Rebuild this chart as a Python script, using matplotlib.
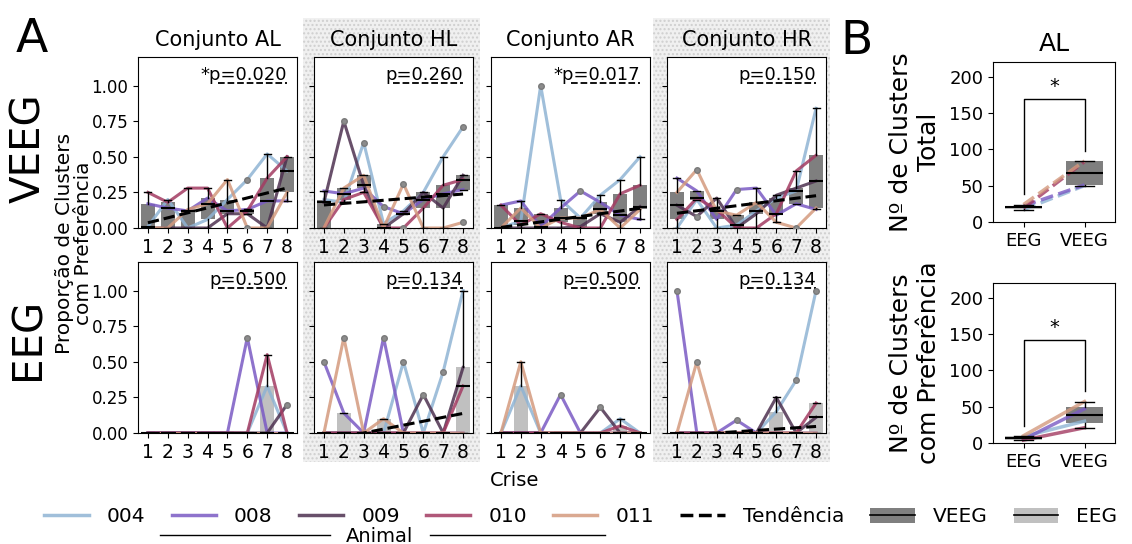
import numpy as np
import matplotlib.pyplot as plt
from matplotlib.lines import Line2D
from matplotlib.patches import Patch, Rectangle
from matplotlib.legend_handler import HandlerTuple

animals = ['004', '008', '009', '010', '011']
animal_colors = ['#8fb4d4', '#7a5ac4', '#4e3150', '#a33b62', '#d49a7e']
crises = np.arange(1, 9)
conjuntos = ['AL', 'HL', 'AR', 'HR']

# proporção de clusters com preferência: uma linha por animal, uma coluna por crise
veeg_al = [[0.01, 0.20, 0.00, 0.06, 0.20, 0.34, 0.52, 0.40],
           [0.17, 0.14, 0.12, 0.21, 0.12, 0.13, 0.19, 0.19],
           [0.00, 0.00, 0.00, 0.00, 0.10, 0.10, 0.00, 0.50],
           [0.25, 0.18, 0.28, 0.28, 0.00, 0.12, 0.35, 0.50],
           [0.00, 0.00, 0.13, 0.17, 0.34, 0.00, 0.00, 0.25]]
veeg_hl = [[0.20, 0.18, 0.60, 0.03, 0.12, 0.25, 0.50, 0.71],
           [0.26, 0.24, 0.28, 0.15, 0.10, 0.20, 0.24, 0.27],
           [0.18, 0.75, 0.30, 0.00, 0.10, 0.25, 0.14, 0.37],
           [0.00, 0.20, 0.25, 0.00, 0.00, 0.14, 0.30, 0.34],
           [0.00, 0.28, 0.37, 0.00, 0.31, 0.00, 0.00, 0.04]]
veeg_ar = [[0.00, 0.05, 1.00, 0.20, 0.07, 0.23, 0.34, 0.50],
           [0.16, 0.19, 0.01, 0.14, 0.26, 0.18, 0.09, 0.06],
           [0.00, 0.00, 0.00, 0.00, 0.01, 0.10, 0.04, 0.15],
           [0.16, 0.02, 0.10, 0.04, 0.00, 0.00, 0.24, 0.30],
           [0.00, 0.14, 0.00, 0.07, 0.07, 0.13, 0.00, 0.13]]
veeg_hr = [[0.00, 0.20, 0.00, 0.02, 0.12, 0.21, 0.26, 0.84],
           [0.35, 0.26, 0.06, 0.27, 0.28, 0.09, 0.17, 0.13],
           [0.16, 0.08, 0.21, 0.00, 0.10, 0.23, 0.28, 0.33],
           [0.06, 0.21, 0.13, 0.00, 0.00, 0.10, 0.40, 0.51],
           [0.25, 0.41, 0.12, 0.09, 0.18, 0.04, 0.00, 0.14]]

eeg_al = [[0, 0, 0, 0, 0, 0, 0.33, 0],
          [0, 0, 0, 0, 0, 0.67, 0, 0],
          [0, 0, 0, 0, 0, 0, 0, 0.20],
          [0, 0, 0, 0, 0, 0, 0.55, 0],
          [0, 0, 0, 0, 0, 0, 0, 0]]
eeg_hl = [[0, 0, 0, 0, 0.50, 0, 0.43, 1.00],
          [0.50, 0.14, 0, 0.67, 0, 0, 0, 0],
          [0, 0, 0, 0, 0, 0.27, 0, 0.46],
          [0, 0, 0, 0, 0, 0, 0, 0.33],
          [0, 0.67, 0, 0.10, 0, 0, 0, 0]]
eeg_ar = [[0, 0.33, 0, 0, 0, 0, 0.10, 0],
          [0, 0, 0, 0.27, 0, 0, 0, 0],
          [0, 0, 0, 0, 0, 0.18, 0, 0],
          [0, 0, 0, 0, 0, 0, 0.05, 0],
          [0, 0.50, 0, 0, 0, 0, 0, 0]]
eeg_hr = [[0, 0, 0, 0, 0, 0.15, 0.37, 1.00],
          [1.00, 0, 0, 0.09, 0, 0, 0, 0],
          [0, 0, 0, 0, 0, 0.25, 0, 0.11],
          [0, 0, 0, 0, 0, 0, 0, 0.21],
          [0, 0.50, 0, 0, 0, 0, 0, 0]]

pvals_veeg = ['*p=0.020', 'p=0.260', '*p=0.017', 'p=0.150']
pvals_eeg = ['p=0.500', 'p=0.134', 'p=0.500', 'p=0.134']

# painel B (conjunto AL), animal 009 sem dado
total_eeg = [17, 22, np.nan, 19, 24]
total_veeg = [50, 51, np.nan, 83, 84]
pref_eeg = [9, 5, np.nan, 4, 10]
pref_veeg = [30, 47, np.nan, 21, 57]

VEEG_GRAY = '#7f7f7f'
EEG_GRAY = '#c0c0c0'

W, H = 1132, 544
fig = plt.figure(figsize=(W / 100, H / 100), dpi=100)


def add_ax(left, top, width, height):
    return fig.add_axes([left / W, 1 - (top + height) / H, width / W, height / H])


def draw_boxes(ax, groups, positions, colors, width):
    bp = ax.boxplot(groups, positions=positions, widths=width, patch_artist=True,
                    manage_ticks=False,
                    boxprops=dict(edgecolor='none', zorder=1),
                    medianprops=dict(color='black', lw=1.5, zorder=3),
                    whiskerprops=dict(color='black', lw=1, zorder=3),
                    capprops=dict(color='black', lw=1, zorder=3),
                    flierprops=dict(marker='o', markersize=4, markerfacecolor='#8c8c8c',
                                    markeredgecolor='#7a7a7a', zorder=4))
    for patch, c in zip(bp['boxes'], colors):
        patch.set_facecolor(c)
    return bp


# fundo pontilhado nas colunas HL e HR
for x0 in (303, 653):
    fig.add_artist(Rectangle((x0 / W, 1 - 462 / H), 177 / W, 444 / H,
                             transform=fig.transFigure, facecolor='#f0f0f0',
                             edgecolor='#cfcfcf', hatch='....', lw=0, zorder=-1))

col_left = [138, 314, 491, 667]
rows = [([veeg_al, veeg_hl, veeg_ar, veeg_hr], VEEG_GRAY, pvals_veeg, 57),
        ([eeg_al, eeg_hl, eeg_ar, eeg_hr], EEG_GRAY, pvals_eeg, 262)]

for r, (datasets, box_color, pvals, top) in enumerate(rows):
    for c, name in enumerate(conjuntos):
        ax = add_ax(col_left[c], top, 159, 171)
        values = np.array(datasets[c], dtype=float)
        for k in range(len(animals)):
            ax.plot(crises, values[k], color=animal_colors[k], lw=2.2, alpha=0.85, zorder=2)
        draw_boxes(ax, [values[:, i] for i in range(len(crises))], crises,
                   [box_color] * len(crises), 0.7)
        # tendência: reta ajustada às medianas de cada crise
        slope, intercept = np.polyfit(crises, np.median(values, axis=0), 1)
        ax.plot(crises, slope * crises + intercept, color='black', ls='--', lw=2.2, zorder=5)
        ax.plot([4.5, 8], [1.02, 1.02], color='black', ls='--', lw=1.3)
        ax.text(8, 1.04, pvals[c], ha='right', va='baseline', fontsize=13)
        ax.set_xlim(0.5, 8.5)
        ax.set_ylim(0, 1.2)
        ax.set_xticks(crises)
        ax.set_yticks([0, 0.25, 0.5, 0.75, 1.0])
        ax.set_yticklabels(['0.00', '0.25', '0.50', '0.75', '1.00'])
        ax.tick_params(axis='y', labelsize=12)
        ax.tick_params(axis='x', labelsize=13.5)
        if c > 0:
            ax.tick_params(labelleft=False)
        if r == 0:
            ax.set_title(f'Conjunto {name}', fontsize=15, pad=8)

fig.text(32 / W, 1 - 40 / H, 'A', fontsize=34, ha='center', va='center')
fig.text(857 / W, 1 - 42 / H, 'B', fontsize=34, ha='center', va='center')
fig.text(29 / W, 1 - 148 / H, 'VEEG', fontsize=29, rotation=90, ha='center', va='center')
fig.text(29 / W, 1 - 339 / H, 'EEG', fontsize=29, rotation=90, ha='center', va='center')
fig.text(74 / W, 1 - 243 / H, 'Proporção de Clusters\ncom Preferência', fontsize=14.5,
         rotation=90, ha='center', va='center', multialignment='center', linespacing=1.05)
fig.text(515 / W, 1 - 481 / H, 'Crise', fontsize=14, ha='center', va='center')

# painel B
b_panels = [(total_eeg, total_veeg, 'Nº de Clusters\nTotal', '--', 62),
            (pref_eeg, pref_veeg, 'Nº de Clusters\ncom Preferência', '-', 283)]
for i, (eeg, veeg, ylabel, ls, top) in enumerate(b_panels):
    ax = add_ax(993, top, 122, 160)
    eeg = np.array(eeg, dtype=float)
    veeg = np.array(veeg, dtype=float)
    for k in range(len(animals)):
        if np.isnan(eeg[k]):
            continue
        ax.plot([0, 1], [eeg[k], veeg[k]], color=animal_colors[k], ls=ls, lw=2.5,
                alpha=0.8, zorder=2)
    draw_boxes(ax, [eeg[~np.isnan(eeg)], veeg[~np.isnan(veeg)]], [0, 1],
               [EEG_GRAY, VEEG_GRAY], 0.6)
    hi_eeg, hi_veeg = np.nanmax(eeg), np.nanmax(veeg)
    ax.plot([0, 0, 1, 1], [hi_eeg + 14, hi_veeg + 85, hi_veeg + 85, hi_veeg + 14],
            color='black', lw=1)
    ax.text(0.5, hi_veeg + 89, '*', ha='center', va='bottom', fontsize=14)
    ax.set_xlim(-0.5, 1.5)
    ax.set_ylim(0, 220)
    ax.set_xticks([0, 1])
    ax.set_xticklabels(['EEG', 'VEEG'])
    ax.set_yticks([0, 50, 100, 150, 200])
    ax.tick_params(labelsize=13)
    ax.set_ylabel(ylabel, fontsize=18, labelpad=6)
    if i == 0:
        ax.set_title('AL', fontsize=18, pad=8)

# legenda
handles = [Line2D([], [], color=col, lw=2.5, alpha=0.85) for col in animal_colors]
handles.append(Line2D([], [], color='black', ls='--', lw=2.5))
handles.append((Patch(facecolor=VEEG_GRAY), Line2D([], [], color='black', lw=1.2)))
handles.append((Patch(facecolor=EEG_GRAY), Line2D([], [], color='black', lw=1.2)))
labels = animals + ['Tendência', 'VEEG', 'EEG']
fig.legend(handles, labels, loc='center', bbox_to_anchor=(0.513, 1 - 517 / H), ncol=8,
           frameon=False, fontsize=14.5, handlelength=2.2, handletextpad=0.9,
           columnspacing=1.3, handler_map={tuple: HandlerTuple(ndivide=1)})

fig.add_artist(Line2D([160 / W, 330 / W], [1 - 535 / H] * 2, color='black', lw=1))
fig.add_artist(Line2D([430 / W, 605 / W], [1 - 535 / H] * 2, color='black', lw=1))
fig.text(380 / W, 1 - 536 / H, 'Animal', fontsize=14, ha='center', va='center')

fig.savefig('out.png', dpi=100)
